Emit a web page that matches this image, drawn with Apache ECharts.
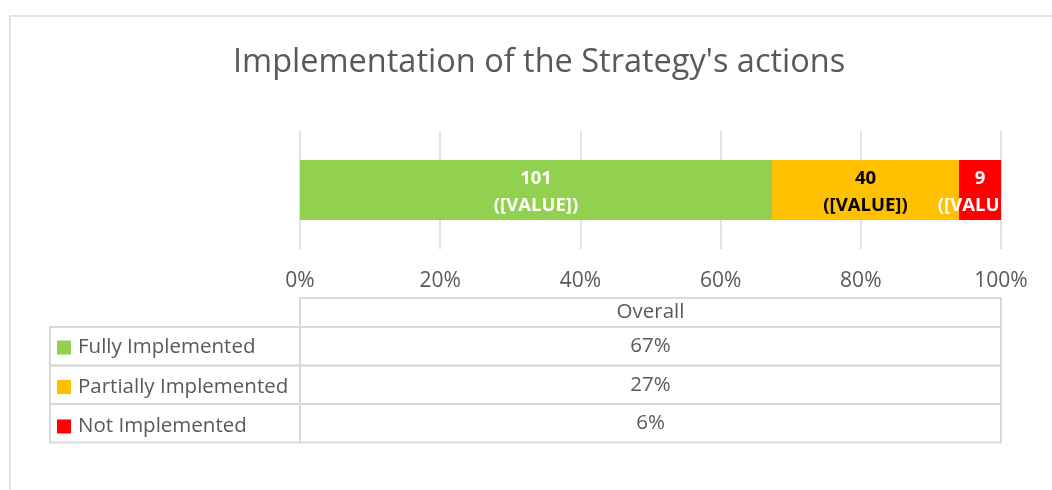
<!DOCTYPE html>
<html>
<head>
<meta charset="utf-8">
<script src="https://cdn.jsdelivr.net/npm/echarts@6/dist/echarts.min.js"></script>
<style>
  html, body { margin: 0; padding: 0; background: #fff; }
  #chart { width: 1052px; height: 490px; }
</style>
</head>
<body>
<div id="chart"></div>
<script>
const categories = ['Overall'];
const seriesNames = ['Fully Implemented', 'Partially Implemented', 'Not Implemented'];
const counts = [101, 40, 9];
const colors = ['#92d050', '#ffc000', '#ff0000'];
const labelColors = ['#ffffff', '#000000', '#ffffff'];
const tickLabels = ['0%', '20%', '40%', '60%', '80%', '100%'];

const total = counts.reduce((a, b) => a + b, 0);
const shares = counts.map(c => c / total);

const chart = echarts.init(document.getElementById('chart'));

const GRID_LEFT = 300, GRID_RIGHT = 1001, GRID_TOP = 131, GRID_BOTTOM = 249;
const FONT = '"Open Sans", "DejaVu Sans", sans-serif';
const LINE = '#d9d9d9';
const TEXT = '#595959';
const TABLE_FONT = 20.5;

const option = {
  animation: false,
  backgroundColor: '#ffffff',
  title: {
    text: "Implementation of the Strategy's actions",
    left: 228,
    top: 41,
    textStyle: { fontFamily: FONT, fontSize: 32.5, fontWeight: 'normal', color: TEXT }
  },
  legend: {
    orient: 'vertical',
    left: 57,
    top: 337,
    padding: 0,
    itemWidth: 14,
    itemHeight: 14,
    itemGap: 18.5,
    icon: 'rect',
    selectedMode: false,
    data: seriesNames,
    textStyle: { fontFamily: FONT, fontSize: TABLE_FONT, color: TEXT, lineHeight: 20, padding: [0, 0, 0, 2] }
  },
  grid: {
    left: GRID_LEFT,
    right: 1052 - GRID_RIGHT,
    top: GRID_TOP,
    bottom: 490 - GRID_BOTTOM
  },
  xAxis: {
    type: 'value',
    min: 0,
    max: 1,
    interval: 0.2,
    axisLine: { show: false },
    axisTick: { show: false },
    splitLine: { show: true, lineStyle: { color: LINE, width: 1.5 } },
    axisLabel: {
      margin: 22,
      fontFamily: FONT,
      fontSize: 21,
      color: TEXT,
      formatter: (v) => tickLabels[Math.round(v / 0.2)]
    }
  },
  yAxis: {
    type: 'category',
    data: categories,
    show: false
  },
  series: seriesNames.map((name, i) => ({
    name: name,
    type: 'bar',
    stack: 'total',
    barWidth: 60,
    itemStyle: { color: colors[i] },
    label: {
      show: true,
      position: 'inside',
      offset: [0, 2],
      fontFamily: FONT,
      fontSize: 18.5,
      fontWeight: 'bold',
      lineHeight: 27,
      color: labelColors[i],
      formatter: () => counts[i] + '\n([VALUE])'
    },
    data: [shares[i]]
  }))
};

chart.setOption(option);

// data table under the chart, laid out from the grid's own scale
function buildTable() {
  const x0 = chart.convertToPixel({ xAxisIndex: 0 }, 0);
  const x1 = chart.convertToPixel({ xAxisIndex: 0 }, 1);
  const tableLeft = 50;
  const headerTop = 298, headerBottom = 327;
  const rowH = 38.5;
  const els = [];
  const ls = { stroke: LINE, lineWidth: 2 };

  // outer frame of the chart area
  els.push({ type: 'polyline', shape: { points: [[10, 490], [10, 16], [1052, 16]] }, style: { stroke: LINE, fill: null, lineWidth: 1.5 }, silent: true });

  // header cell
  els.push({ type: 'rect', shape: { x: x0, y: headerTop, width: x1 - x0, height: headerBottom - headerTop }, style: { fill: null, stroke: LINE, lineWidth: 2 }, silent: true });
  els.push({ type: 'text', x: (x0 + x1) / 2, y: (headerTop + headerBottom) / 2, style: { text: categories[0], fontFamily: FONT, fontSize: TABLE_FONT, fill: TEXT, align: 'center', verticalAlign: 'middle' }, silent: true });

  seriesNames.forEach((name, i) => {
    const top = headerBottom + i * rowH;
    els.push({ type: 'rect', shape: { x: tableLeft, y: top, width: x1 - tableLeft, height: rowH }, style: { fill: null, stroke: LINE, lineWidth: 2 }, silent: true });
    els.push({ type: 'line', shape: { x1: x0, y1: top, x2: x0, y2: top + rowH }, style: ls, silent: true });
    els.push({ type: 'text', x: (x0 + x1) / 2, y: top + rowH / 2, style: { text: Math.round(shares[i] * 100) + '%', fontFamily: FONT, fontSize: TABLE_FONT, fill: TEXT, align: 'center', verticalAlign: 'middle' }, silent: true });
  });

  chart.setOption({ graphic: { elements: els } });
}
buildTable();

window.addEventListener('resize', () => chart.resize());
</script>
</body>
</html>
